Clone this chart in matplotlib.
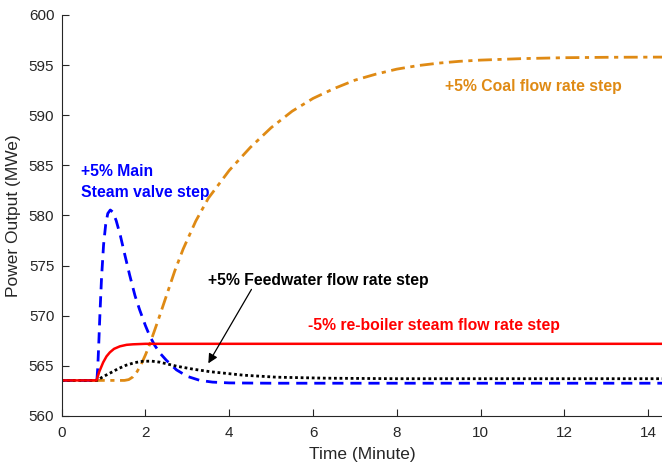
import matplotlib
matplotlib.use('Agg')
import matplotlib.pyplot as plt

plt.rcParams['font.family'] = ['Liberation Sans', 'DejaVu Sans']

# Power output response (MWe) vs time (minute) for each step disturbance
t_reboiler = [0, 0.83, 0.9, 0.99, 1.07, 1.15, 1.25, 1.39, 1.55, 1.7, 2.0, 14.35]
p_reboiler = [563.55, 563.55, 564.45, 565.35, 565.95, 566.35, 566.7, 566.95, 567.1,
              567.15, 567.2, 567.2]

t_valve = [0, 0.84, 0.86, 0.88, 0.91, 0.95, 1.0, 1.05, 1.1, 1.16, 1.22, 1.3, 1.4, 1.5,
           1.62, 1.75, 1.86, 2.0, 2.1, 2.22, 2.35, 2.5, 2.74, 3.0, 3.3, 3.6, 4.0, 5.0, 14.35]
p_valve = [563.55, 563.55, 564.8, 566.7, 569.9, 573.7, 577.1, 579.1, 580.2, 580.55,
           580.35, 579.5, 578.0, 576.2, 574.1, 572.0, 570.6, 569.0, 568.0, 567.05, 566.25,
           565.55, 564.6, 563.95, 563.55, 563.38, 563.3, 563.27, 563.27]

t_feed = [0, 0.84, 1.0, 1.15, 1.35, 1.54, 1.75, 1.94, 2.15, 2.34, 2.74, 3.14, 3.54,
          4.34, 5.13, 6.32, 8, 14.35]
p_feed = [563.55, 563.55, 563.95, 564.27, 564.72, 565.07, 565.33, 565.46, 565.47, 565.37,
          564.97, 564.67, 564.42, 564.07, 563.87, 563.77, 563.72, 563.72]

t_coal = [0, 1.5, 1.6, 1.7, 1.8, 1.9, 2.0, 2.1, 2.3, 2.5, 2.7, 2.9, 3.2, 3.5, 4.0, 4.5,
          5.0, 5.5, 6.0, 6.5, 7.0, 7.5, 8.0, 8.5, 9.0, 9.5, 10.0, 11, 12.0, 13, 14.35]
p_coal = [563.55, 563.55, 563.63, 563.9, 564.43, 565.18, 566.1, 567.15, 569.52, 572.0,
          574.48, 576.66, 579.44, 581.72, 584.5, 586.78, 588.76, 590.4, 591.68, 592.66,
          593.5, 594.1, 594.6, 594.95, 595.2, 595.38, 595.5, 595.65, 595.74, 595.78, 595.8]

xticks = [0, 2, 4, 6, 8, 10, 12, 14]
yticks = [560, 565, 570, 575, 580, 585, 590, 595, 600]

orange = '#DF8A14'
axis_col = '#262626'

fig = plt.figure(figsize=(6.62, 4.70), dpi=100)
ax = fig.add_axes([0.0932, 0.1149, 0.9068, 0.8532])

ax.plot(t_coal, p_coal, color=orange, lw=2.0, dashes=(5, 2, 1.5, 2))
ax.plot(t_valve, p_valve, color='#0000FF', lw=2.0, dashes=(4, 2.5))
ax.plot(t_feed, p_feed, color='black', lw=2.0, dashes=(1, 1))
ax.plot(t_reboiler, p_reboiler, color='#FF0000', lw=1.8)

ax.set_xlim(0, 14.33)
ax.set_ylim(560, 600)
ax.set_xticks(xticks)
ax.set_yticks(yticks)
ax.tick_params(direction='in', length=5, labelsize=11, colors=axis_col, width=0.8)
ax.tick_params(axis='x', pad=7.5)
ax.tick_params(axis='y', pad=5.3)
for s in ['top', 'right']:
    ax.spines[s].set_visible(False)
for s in ['left', 'bottom']:
    ax.spines[s].set_color(axis_col)
    ax.spines[s].set_linewidth(0.8)

ax.set_xlabel('Time (Minute)', fontsize=12.5, color=axis_col, labelpad=5)
ax.set_ylabel('Power Output (MWe)', fontsize=12.5, color=axis_col, labelpad=6)

# Curve labels
fs = 11.3
ax.text(0.45, 584.43, '+5% Main', color='#0000FF', fontsize=fs, fontweight='bold',
        va='center', ha='left')
ax.text(0.45, 582.26, 'Steam valve step', color='#0000FF', fontsize=fs, fontweight='bold',
        va='center', ha='left')
ax.text(9.15, 592.9, '+5% Coal flow rate step', color=orange, fontsize=fs,
        fontweight='bold', va='center', ha='left')
ax.text(5.885, 569.07, '-5% re-boiler steam flow rate step', color='#FF0000', fontsize=fs,
        fontweight='bold', va='center', ha='left')
ax.text(3.5, 573.49, '+5% Feedwater flow rate step', color='black', fontsize=fs,
        fontweight='bold', va='center', ha='left')
ax.annotate('', xy=(3.5, 565.25), xytext=(4.53, 572.63),
            arrowprops=dict(arrowstyle='-|>', color='black', lw=0.9, mutation_scale=14,
                            shrinkA=0, shrinkB=0))

fig.savefig('out.png', dpi=100)
